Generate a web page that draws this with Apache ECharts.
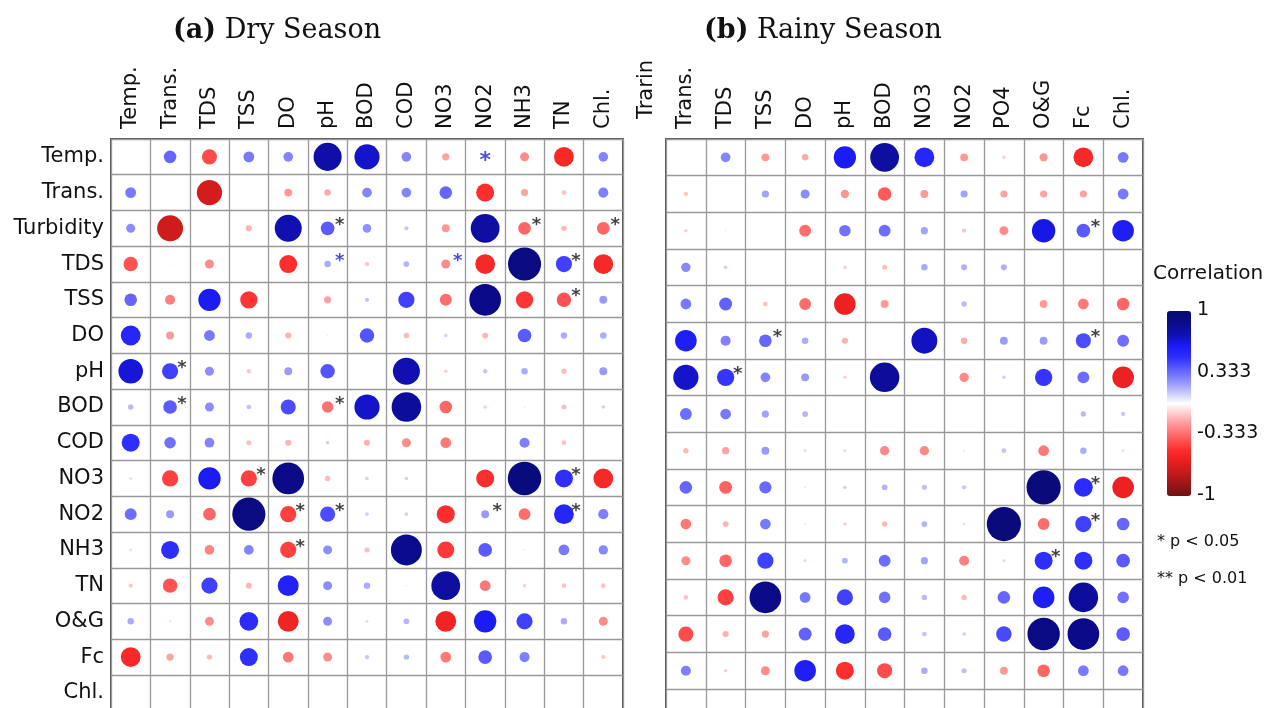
<!DOCTYPE html>
<html><head><meta charset="utf-8">
<script src="https://cdn.jsdelivr.net/npm/echarts@6/dist/echarts.min.js"></script>
<style>html,body{margin:0;padding:0;background:#fff}#c{width:1277px;height:708px}</style>
</head><body><div id="c"></div>
<script>
// ---------- DATA ----------
const dryCols = ['Temp.','Trans.','TDS','TSS','DO','pH','BOD','COD','NO3','NO2','NH3','TN','Chl.'];
const dryRows = ['Temp.','Trans.','Turbidity','TDS','TSS','DO','pH','BOD','COD','NO3','NO2','NH3','TN','O&G','Fc','Chl.'];
const dryR = [
  [null, 0.35,-0.42, 0.30, 0.27, 0.78, 0.70, 0.27,-0.20, null,-0.25,-0.55, 0.27],
  [0.30, null,-0.70,-0.03,-0.22,-0.18, 0.27, 0.27, 0.35,-0.50,-0.20,-0.13, 0.28],
  [0.25,-0.72, null,-0.17, 0.75, 0.38, 0.24, 0.12,-0.22, 0.80,-0.35,-0.15,-0.35],
  [-0.40,-0.05,-0.25, null,-0.50, 0.18,-0.12, 0.16,-0.25,-0.55, 0.92, 0.45,-0.55],
  [0.35,-0.28, 0.62,-0.48, null,-0.20, 0.12, 0.45,-0.33, 0.88,-0.48,-0.40, 0.22],
  [0.55,-0.22, 0.30, 0.18,-0.17,-0.05, 0.40,-0.15, 0.10,-0.16, 0.38, 0.18, 0.18],
  [0.68, 0.45, 0.25,-0.12, 0.22, 0.40, null, 0.75,-0.10, 0.12, 0.18,-0.15, 0.22],
  [0.15, 0.38, 0.25, 0.13, 0.42,-0.32, 0.70, 0.82,-0.35,-0.10, 0.05,-0.14, 0.10],
  [0.50, 0.32, 0.27,-0.14,-0.17, 0.10,-0.17,-0.25,-0.30, null, 0.28,-0.13, 0.03],
  [-0.08,-0.45, 0.62,-0.45, 0.88,-0.15, 0.10, 0.10, null,-0.50, 0.93, 0.50,-0.55],
  [0.33, 0.22,-0.35, 0.92,-0.45, 0.42, 0.10, 0.10,-0.50, 0.22,-0.33, 0.55, 0.28],
  [-0.08, 0.50,-0.27, 0.27,-0.45, 0.25,-0.14, 0.86,-0.47, 0.38, 0.05, 0.30, 0.26],
  [-0.12,-0.40, 0.45,-0.16, 0.58, 0.25, 0.18, 0.05, 0.80,-0.30,-0.10,-0.13,-0.13],
  [0.18,-0.07,-0.25, 0.52,-0.58, 0.25, 0.08, 0.16,-0.58, 0.62, 0.45, 0.18,-0.25],
  [-0.55,-0.20,-0.15, 0.50,-0.30,-0.25, 0.12, 0.15,-0.30, 0.38, 0.28, null,-0.12],
  [0.03, null, null, null, null, null, null, null, null, null, null, null, null]
];
// significance markers [rowIndex, colIndex]
const dryStars = [[2,5],[2,10],[2,12],[3,11],[4,11],[6,1],[7,1],[7,5],[9,3],[9,11],[10,4],[10,5],[10,9],[10,11],[11,4]];
const dryBlueStars = [[3,5],[3,8]];
const dryCenterStars = [[0,9]];

const rainCols = ['Trans.','TDS','TSS','DO','pH','BOD','NO3','NO2','PO4','O&G','Fc','Chl.'];
const rainRows = dryRows;
const rainR = [
  [null, 0.27,-0.22,-0.18, 0.62, 0.80, 0.55,-0.22,-0.10,-0.23,-0.55, 0.30],
  [-0.12, null, 0.20, 0.25,-0.23,-0.38,-0.22, 0.20,-0.20,-0.20,-0.20, 0.30],
  [-0.10,-0.05, null,-0.33, 0.32, 0.33, 0.20,-0.12,-0.25, 0.65, 0.38, 0.60],
  [0.26, 0.10, null, null,-0.10,-0.14, 0.18, 0.17, 0.17, null,-0.04, null],
  [0.30, 0.36,-0.13,-0.33,-0.60,-0.22, null, 0.15,-0.04,-0.22,-0.30,-0.35],
  [0.60, 0.28, 0.35, 0.18,-0.17, null, 0.72,-0.18, 0.22, 0.22, 0.42, 0.33],
  [0.70, 0.48, 0.27, 0.22,-0.10, 0.82, null,-0.26, 0.10, 0.48, 0.33,-0.60],
  [0.33, 0.30, 0.20, 0.16, null, null, null, null, null, null, 0.15, 0.12],
  [-0.15,-0.20, 0.22, 0.08, 0.08,-0.26,-0.26,-0.06, 0.13,-0.30, 0.18,-0.08],
  [0.35,-0.36, 0.34, 0.05, 0.10, 0.16, 0.14, 0.12, null, 0.95, 0.52,-0.60],
  [-0.30,-0.16, 0.30, 0.05,-0.10,-0.15, 0.16,-0.08, 0.95,-0.33, 0.45, 0.35],
  [-0.25,-0.35, 0.45, 0.08, 0.16, 0.33, 0.20,-0.28, 0.08, 0.50, 0.50, 0.38],
  [-0.13,-0.45, 0.88, 0.30, 0.45, 0.32, 0.15,-0.15, 0.35, 0.60, 0.82, 0.32],
  [-0.42,-0.17,-0.20, 0.36, 0.55, 0.38, 0.13, 0.10, 0.43, 0.90, 0.88, 0.38],
  [0.28,-0.10,-0.25, 0.60,-0.50,-0.42, 0.18, 0.14,-0.22,-0.35, 0.30, 0.30],
  [null, null, null, null, null, null, null, null, null, null, null, null]
];
const rainStars = [[2,10],[5,2],[5,10],[6,1],[9,10],[10,10],[11,9]];

const colorbarTicks = [1, 0.333, -0.333, -1];

// ---------- BUILD ----------
function cells(mat){
  const out = [];
  mat.forEach((row, ri) => row.forEach((v, ci) => { if (v !== null) out.push([ci, ri, v]); }));
  return out;
}
const SANS = 'DejaVu Sans';
const SERIF = 'DejaVu Serif';
const starLabel = (color, off, size) => ({
  show: true, formatter: '*', position: 'inside', offset: off,
  color: color, fontSize: size, fontWeight: 'bold', fontFamily: SANS
});
function starSeries(list, xi, color, off, size){
  return {
    type: 'scatter', xAxisIndex: xi, yAxisIndex: xi, symbolSize: 1,
    itemStyle: {color: 'rgba(0,0,0,0)'}, silent: true, z: 5,
    label: starLabel(color, off, size),
    data: list.map(p => [p[1], p[0]])
  };
}
const sizeFn = v => Math.abs(v[2]) * 36;

const grids = [
  {left: 111, top: 139, width: 512, height: 16 * 35.73},
  {left: 666, top: 139, width: 477, height: 16 * 36.67},
  {left: 1190, top: 310, width: 1, height: 185}
];
function xCat(gi, data){
  return {
    gridIndex: gi, type: 'category', data: data, position: 'top',
    axisLine: {show: false}, axisTick: {show: false},
    axisLabel: {rotate: -90, interval: 0, fontSize: 21, fontFamily: SANS, color: '#111', margin: 10},
    splitLine: {show: true, interval: 0, lineStyle: {color: '#999', width: 1.3}}
  };
}
function yCat(gi, data, showLabel){
  return {
    gridIndex: gi, type: 'category', data: data, inverse: true,
    axisLine: {show: false}, axisTick: {show: false},
    axisLabel: {show: showLabel, interval: 0, fontSize: 21, fontFamily: SANS, color: '#111', margin: 7},
    splitLine: {show: true, interval: 0, lineStyle: {color: '#999', width: 1.3}}
  };
}

const option = {
  animation: false,
  backgroundColor: '#fff',
  title: [
    {text: '{b|(a)} Dry Season', left: 168, top: 12,
     textStyle: {fontFamily: SERIF, fontSize: 27, fontWeight: 'normal', color: '#111',
       rich: {b: {fontFamily: SERIF, fontSize: 27, fontWeight: 'bold', color: '#111'}}}},
    {text: '{b|(b)} Rainy Season', left: 699, top: 12,
     textStyle: {fontFamily: SERIF, fontSize: 27, fontWeight: 'normal', color: '#111',
       rich: {b: {fontFamily: SERIF, fontSize: 27, fontWeight: 'bold', color: '#111'}}}},
    {text: 'Correlation', left: 1148, top: 259, textStyle: {fontFamily: SANS, fontSize: 20, fontWeight: 'normal', color: '#111'}},
    {text: '* p < 0.05', left: 1152, top: 529, textStyle: {fontFamily: SANS, fontSize: 16, fontWeight: 'normal', color: '#111'}},
    {text: '** p < 0.01', left: 1152, top: 566, textStyle: {fontFamily: SANS, fontSize: 16, fontWeight: 'normal', color: '#111'}}
  ],
  grid: [
    Object.assign({show: true, borderColor: '#555', borderWidth: 2, outerBoundsMode: 'none'}, grids[0]),
    Object.assign({show: true, borderColor: '#555', borderWidth: 2, outerBoundsMode: 'none'}, grids[1]),
    Object.assign({show: false, outerBoundsMode: 'none'}, grids[2])
  ],
  xAxis: [
    xCat(0, dryCols),
    xCat(1, rainCols),
    {gridIndex: 2, type: 'value', show: false}
  ],
  yAxis: [
    yCat(0, dryRows, true),
    yCat(1, rainRows, false),
    {gridIndex: 2, type: 'value', min: -1, max: 1, position: 'right',
     axisLine: {show: false}, axisTick: {show: false}, splitLine: {show: false},
     axisLabel: {customValues: colorbarTicks, fontSize: 19, fontFamily: SANS, color: '#111', margin: 6,
       formatter: v => String(v)}}
  ],
  visualMap: {
    type: 'continuous', min: -1, max: 1, dimension: 2, seriesIndex: [0, 1],
    calculable: false, left: 1152, top: 296, itemWidth: 24, itemHeight: 185,
    text: null, showLabel: false,
    inRange: {color: ['#6e1214','#9a1518','#c81a1a','#e81e1e','#ff2e2e','#ff5c5c','#ff8c8c','#ffc4c4','#ffffff',
                      '#c4c4ff','#8c8cff','#5c5cff','#2e2eff','#1a1af4','#1010b0','#0a0a8a','#0a0a70']}
  },
  graphic: [
    {type: 'text', x: 647, y: 119, rotation: Math.PI / 2,
     style: {text: 'Trarin', fontSize: 21, fontFamily: SANS, fill: '#111', textAlign: 'left', textVerticalAlign: 'middle'}}
  ],
  series: [
    {type: 'scatter', xAxisIndex: 0, yAxisIndex: 0, symbolSize: sizeFn, z: 3, itemStyle: {opacity: 1}, data: cells(dryR)},
    {type: 'scatter', xAxisIndex: 1, yAxisIndex: 1, symbolSize: sizeFn, z: 3, itemStyle: {opacity: 1}, data: cells(rainR)},
    starSeries(dryStars, 0, '#111', [12, -3], 18),
    starSeries(dryBlueStars, 0, '#1a1ad8', [12, -3], 18),
    starSeries(dryCenterStars, 0, '#1a1ad8', [0, 4], 22),
    starSeries(rainStars, 1, '#111', [12, -3], 18)
  ]
};
const chart = echarts.init(document.getElementById('c'), null, {renderer: 'canvas'});
chart.setOption(option);
</script>
</body></html>
